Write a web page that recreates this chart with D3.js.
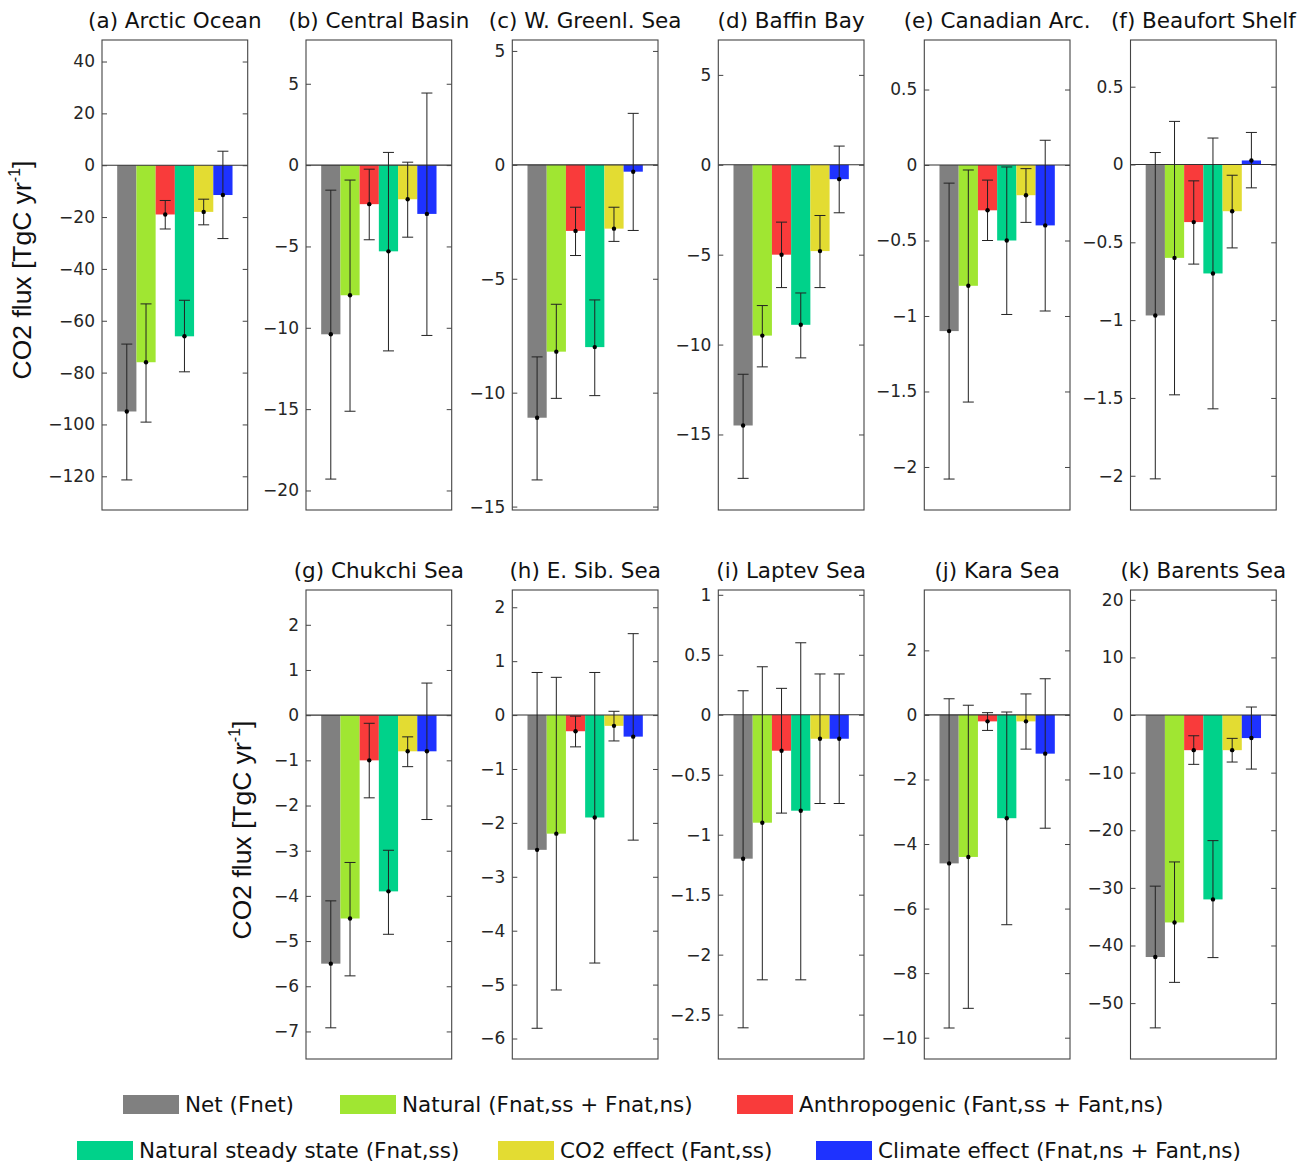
<!DOCTYPE html>
<html><head><meta charset="utf-8">
<script src="https://cdn.jsdelivr.net/npm/d3@7"></script>
<style>body{margin:0;background:#fff}</style>
</head><body>
<svg id="chart" width="1306" height="1164"></svg>
<script>
// ---------------- DATA ----------------
const regions = ["(a) Arctic Ocean","(b) Central Basin","(c) W. Greenl. Sea","(d) Baffin Bay","(e) Canadian Arc.","(f) Beaufort Shelf","(g) Chukchi Sea","(h) E. Sib. Sea","(i) Laptev Sea","(j) Kara Sea","(k) Barents Sea"];
const seriesNames = ["Net (Fnet)","Natural (Fnat,ss + Fnat,ns)","Anthropogenic (Fant,ss + Fant,ns)","Natural steady state (Fnat,ss)","CO2 effect (Fant,ss)","Climate effect (Fnat,ns + Fant,ns)"];

// means per series, one value per region (a..k)
const netMean     = [-95, -10.4, -11.1, -14.5, -1.1, -0.97, -5.5, -2.5, -1.2, -4.6, -42];
const naturalMean = [-76, -8.0, -8.2, -9.5, -0.8, -0.6, -4.5, -2.2, -0.9, -4.4, -36];
const anthroMean  = [-19, -2.4, -2.9, -5.0, -0.3, -0.37, -1.0, -0.3, -0.3, -0.2, -6.1];
const natSSMean   = [-66, -5.3, -8.0, -8.9, -0.5, -0.7, -3.9, -1.9, -0.8, -3.2, -32];
const co2Mean     = [-18, -2.1, -2.8, -4.8, -0.2, -0.3, -0.8, -0.2, -0.2, -0.2, -6.1];
const climateMean = [-11.5, -3.0, -0.3, -0.8, -0.4, 0.026, -0.8, -0.4, -0.2, -1.2, -4.0];

// error bar upper / lower ends
const netHi     = [-69, -1.54, -8.43, -11.65, -0.12, 0.077, -4.11, 0.79, 0.2, 0.5, -29.7];
const netLo     = [-121.4, -19.3, -13.83, -17.44, -2.08, -2.02, -6.92, -5.81, -2.61, -9.70, -54.3];
const naturalHi = [-53.5, -0.92, -6.12, -7.83, -0.033, 0.277, -3.26, 0.70, 0.40, 0.30, -25.5];
const naturalLo = [-99.1, -15.13, -10.25, -11.24, -1.57, -1.48, -5.77, -5.10, -2.21, -9.09, -46.4];
const anthroHi  = [-13.6, -0.25, -1.86, -3.19, -0.10, -0.105, -0.18, -0.02, 0.22, 0.07, -3.6];
const anthroLo  = [-24.6, -4.59, -3.98, -6.83, -0.50, -0.64, -1.83, -0.59, -0.82, -0.48, -8.56];
const natSSHi   = [-52.1, 0.78, -5.93, -7.13, -0.013, 0.17, -2.99, 0.79, 0.60, 0.09, -21.8];
const natSSLo   = [-79.7, -11.42, -10.13, -10.74, -0.99, -1.57, -4.85, -4.60, -2.21, -6.50, -42.1];
const co2Hi     = [-13.1, 0.18, -1.86, -2.82, -0.024, -0.069, -0.48, 0.07, 0.34, 0.65, -4.05];
const co2Lo     = [-23, -4.43, -3.36, -6.83, -0.38, -0.536, -1.14, -0.48, -0.74, -1.06, -8.16];
const climateHi = [5.4, 4.43, 2.26, 1.04, 0.164, 0.206, 0.71, 1.51, 0.34, 1.12, 1.39];
const climateLo = [-28.3, -10.47, -2.88, -2.67, -0.967, -0.15, -2.31, -2.32, -0.74, -3.51, -9.38];

// axis limits per region
const yMin = [-133, -21.2, -15.15, -19.2, -2.285, -2.22, -7.61, -6.38, -2.87, -10.66, -59.7];
const yMax = [48.3, 7.69, 5.48, 6.94, 0.828, 0.80, 2.77, 2.32, 1.04, 3.87, 21.7];

// tick values per region
const ticksA = [40, 20, 0, -20, -40, -60, -80, -100, -120];
const ticksB = [5, 0, -5, -10, -15, -20];
const ticksC = [5, 0, -5, -10, -15];
const ticksD = [5, 0, -5, -10, -15];
const ticksE = [0.5, 0, -0.5, -1, -1.5, -2];
const ticksF = [0.5, 0, -0.5, -1, -1.5, -2];
const ticksG = [2, 1, 0, -1, -2, -3, -4, -5, -6, -7];
const ticksH = [2, 1, 0, -1, -2, -3, -4, -5, -6];
const ticksI = [1, 0.5, 0, -0.5, -1, -1.5, -2, -2.5];
const ticksJ = [2, 0, -2, -4, -6, -8, -10];
const ticksK = [20, 10, 0, -10, -20, -30, -40, -50];

const yLabel = "CO2 flux [TgC yr";
const yLabelSup = "-1";
const yLabelEnd = "]";

// ---------------- BUILD ----------------
const means = [netMean, naturalMean, anthroMean, natSSMean, co2Mean, climateMean];
const his = [netHi, naturalHi, anthroHi, natSSHi, co2Hi, climateHi];
const los = [netLo, naturalLo, anthroLo, natSSLo, co2Lo, climateLo];
const tickSets = [ticksA, ticksB, ticksC, ticksD, ticksE, ticksF, ticksG, ticksH, ticksI, ticksJ, ticksK];
const colors = ["#808080", "#a0e632", "#f93b3b", "#00d28a", "#e3dc32", "#1e32ff"];

const svg = d3.select("#chart");
const colX = [102, 306, 512.3, 718.3, 924.3, 1130.5];
const panelW = 145.7;
const rows = [{top: 40, bottom: 510}, {top: 590, bottom: 1059}];
const layout = regions.map((r, i) => i < 6 ? {x: colX[i], row: rows[0]} : {x: colX[i - 5], row: rows[1]});
const fmt = d3.format("~g");

regions.forEach((title, ri) => {
  const L = layout[ri];
  const x0 = L.x, x1 = L.x + panelW, top = L.row.top, bottom = L.row.bottom;
  const x = d3.scaleBand().domain(seriesNames).range([x0, x1]).paddingInner(0).paddingOuter(0.79);
  const y = d3.scaleLinear().domain([yMin[ri], yMax[ri]]).range([bottom, top]);
  const g = svg.append("g");

  const data = seriesNames.map((s, si) => ({s, si, v: means[si][ri], hi: his[si][ri], lo: los[si][ri]}));

  g.selectAll("rect.bar").data(data).join("rect")
    .attr("class", "bar")
    .attr("x", d => x(d.s))
    .attr("width", x.bandwidth())
    .attr("y", d => y(Math.max(0, d.v)))
    .attr("height", d => Math.abs(y(d.v) - y(0)))
    .attr("fill", d => colors[d.si]);

  // zero line
  g.append("line").attr("x1", x0).attr("x2", x1).attr("y1", y(0)).attr("y2", y(0))
    .attr("stroke", "#333").attr("stroke-width", 1.1);

  // error bars
  const cap = 5.5;
  const eb = g.selectAll("g.eb").data(data).join("g").attr("class", "eb");
  const cx = d => x(d.s) + x.bandwidth() / 2;
  eb.append("line").attr("x1", cx).attr("x2", cx).attr("y1", d => y(d.hi)).attr("y2", d => y(d.lo))
    .attr("stroke", "#222").attr("stroke-width", 1);
  eb.append("line").attr("x1", d => cx(d) - cap).attr("x2", d => cx(d) + cap).attr("y1", d => y(d.hi)).attr("y2", d => y(d.hi))
    .attr("stroke", "#222").attr("stroke-width", 1);
  eb.append("line").attr("x1", d => cx(d) - cap).attr("x2", d => cx(d) + cap).attr("y1", d => y(d.lo)).attr("y2", d => y(d.lo))
    .attr("stroke", "#222").attr("stroke-width", 1);
  eb.append("circle").attr("cx", cx).attr("cy", d => y(d.v)).attr("r", 2.2).attr("fill", "#000");

  // axes
  const ax = g.append("g").attr("transform", `translate(${x0},0)`)
    .call(d3.axisLeft(y).tickValues(tickSets[ri]).tickSize(-5).tickPadding(7).tickFormat(fmt));
  ax.select(".domain").remove();
  ax.selectAll(".tick line").attr("stroke", "#444");
  ax.selectAll(".tick text").attr("font-family", "DejaVu Sans").attr("font-size", 17).attr("fill", "#262626");
  const axR = g.append("g").attr("transform", `translate(${x1},0)`)
    .call(d3.axisRight(y).tickValues(tickSets[ri]).tickSize(-5).tickFormat(""));
  axR.select(".domain").remove();
  axR.selectAll(".tick line").attr("stroke", "#444");

  // frame
  g.append("rect").attr("x", x0).attr("y", top).attr("width", panelW).attr("height", bottom - top)
    .attr("fill", "none").attr("stroke", "#444").attr("stroke-width", 1.1);

  // title
  g.append("text").attr("x", (x0 + x1) / 2).attr("y", top - 12).attr("text-anchor", "middle")
    .attr("font-family", "DejaVu Sans").attr("font-size", 21.5).attr("fill", "#111").text(title);
});

// y labels
function addYLabel(cx, cy) {
  const t = svg.append("text").attr("transform", `translate(${cx},${cy}) rotate(-90)`)
    .attr("text-anchor", "middle").attr("font-family", "Liberation Sans, Arial").attr("font-size", 26.5).attr("fill", "#111");
  t.append("tspan").text(yLabel);
  t.append("tspan").attr("font-size", 16).attr("dy", -11).text(yLabelSup);
  t.append("tspan").attr("dy", 11).text(yLabelEnd);
}
addYLabel(31, 270);
addYLabel(251, 830);

// legend
const legendPos = [
  {x: 123, y: 1095}, {x: 340, y: 1095}, {x: 737, y: 1095},
  {x: 77, y: 1141}, {x: 498, y: 1141}, {x: 816, y: 1141}
];
const leg = svg.append("g").selectAll("g").data(seriesNames).join("g")
  .attr("transform", (d, i) => `translate(${legendPos[i].x},${legendPos[i].y})`);
leg.append("rect").attr("width", 56).attr("height", 19).attr("fill", (d, i) => colors[i]);
leg.append("text").attr("x", 62).attr("y", 17).attr("font-family", "DejaVu Sans").attr("font-size", 21.5)
  .attr("fill", "#111").text(d => d);
</script>
</body></html>
